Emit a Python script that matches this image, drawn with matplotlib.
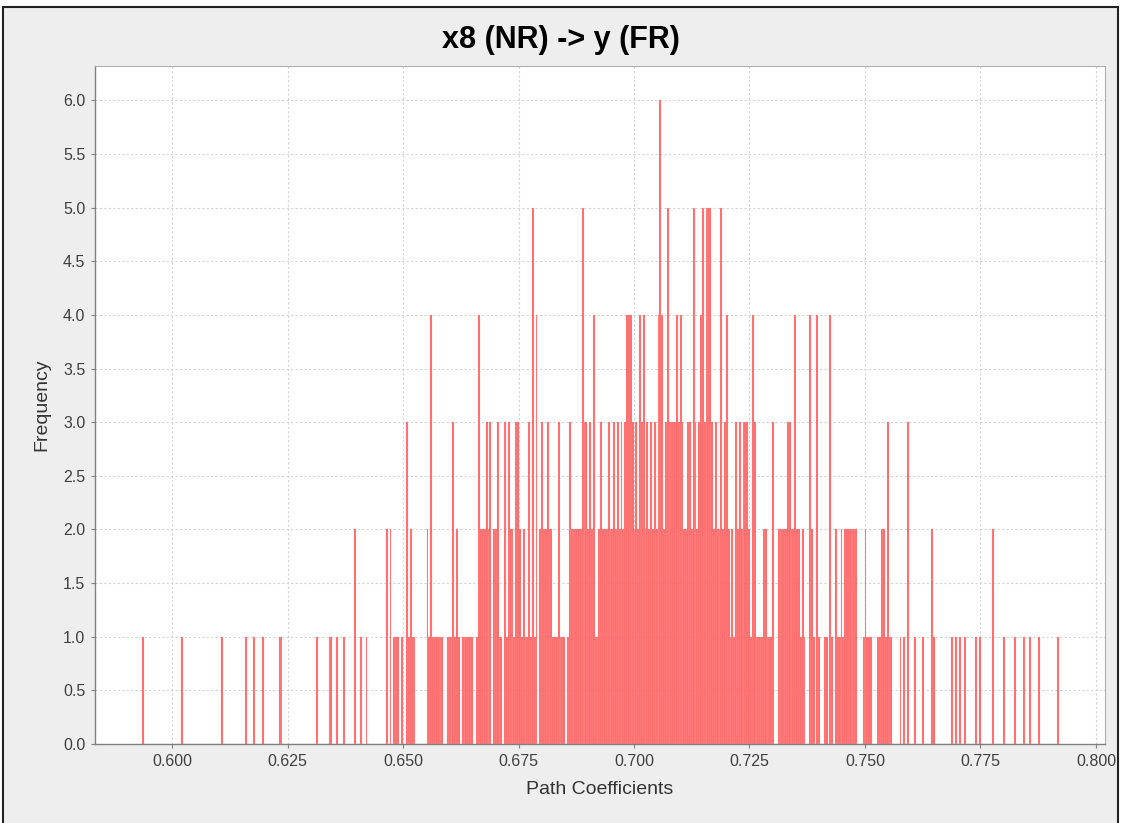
import matplotlib.pyplot as plt
import numpy as np
from matplotlib.ticker import MultipleLocator, FormatStrFormatter
from matplotlib.patches import Rectangle

# histogram of bootstrap path coefficients, 496 bins
first_bin = 0.5937
bin_width = 0.0004
freq = [
    1, 0, 0, 0, 0, 0, 0, 0, 0, 0, 0, 0, 0, 0, 0, 0, 0, 0, 0, 0,
    0, 1, 0, 0, 0, 0, 0, 0, 0, 0, 0, 0, 0, 0, 0, 0, 0, 0, 0, 0,
    0, 0, 0, 1, 0, 0, 0, 0, 0, 0, 0, 0, 0, 0, 0, 0, 1, 0, 0, 0,
    1, 0, 0, 0, 0, 1, 0, 0, 0, 0, 0, 0, 0, 0, 1, 1, 0, 0, 0, 0,
    0, 0, 0, 0, 0, 0, 0, 0, 0, 0, 0, 0, 0, 0, 1, 0, 0, 0, 0, 0,
    0, 1, 1, 0, 0, 1, 0, 0, 0, 1, 0, 0, 0, 0, 0, 2, 0, 0, 1, 0,
    0, 1, 0, 0, 0, 0, 0, 0, 0, 0, 0, 0, 2, 0, 2, 0, 1, 1, 1, 0,
    1, 0, 0, 3, 1, 2, 1, 1, 0, 0, 0, 0, 0, 0, 2, 1, 4, 1, 1, 1,
    1, 1, 1, 0, 0, 1, 1, 1, 3, 1, 2, 1, 0, 1, 1, 1, 1, 1, 1, 0,
    0, 1, 4, 2, 2, 2, 3, 2, 3, 0, 2, 2, 3, 1, 1, 0, 3, 1, 3, 2,
    2, 1, 3, 3, 2, 1, 2, 1, 1, 3, 1, 5, 1, 4, 0, 2, 3, 2, 2, 3,
    2, 2, 1, 1, 1, 3, 1, 1, 1, 0, 1, 3, 2, 2, 2, 2, 2, 2, 5, 3,
    3, 2, 3, 2, 4, 1, 1, 2, 3, 2, 2, 2, 3, 2, 2, 3, 2, 3, 2, 3,
    2, 3, 4, 4, 4, 3, 2, 3, 2, 4, 3, 4, 2, 3, 2, 3, 2, 3, 2, 4,
    6, 4, 2, 3, 5, 3, 3, 3, 3, 4, 3, 4, 3, 2, 2, 3, 3, 2, 5, 3,
    2, 3, 4, 5, 3, 5, 5, 5, 3, 2, 3, 2, 2, 5, 2, 3, 4, 2, 1, 2,
    1, 3, 2, 3, 2, 3, 3, 3, 2, 1, 4, 3, 1, 1, 1, 1, 2, 2, 1, 1,
    1, 3, 0, 0, 2, 2, 2, 2, 2, 3, 3, 2, 2, 4, 2, 2, 1, 2, 1, 0,
    0, 4, 2, 1, 0, 4, 1, 0, 0, 1, 1, 0, 4, 1, 0, 2, 1, 1, 2, 1,
    2, 2, 2, 2, 2, 2, 2, 0, 0, 0, 1, 2, 1, 1, 1, 0, 0, 0, 1, 1,
    2, 2, 1, 3, 1, 1, 0, 0, 0, 0, 1, 0, 1, 0, 3, 0, 0, 0, 1, 0,
    0, 0, 1, 0, 0, 0, 0, 2, 1, 0, 0, 0, 0, 0, 0, 0, 0, 0, 1, 0,
    1, 0, 1, 0, 0, 1, 0, 0, 0, 0, 0, 1, 0, 1, 0, 0, 0, 0, 0, 0,
    2, 0, 0, 0, 0, 0, 1, 0, 0, 0, 0, 0, 1, 0, 0, 0, 0, 1, 0, 0,
    1, 0, 0, 0, 0, 1, 0, 0, 0, 0, 0, 0, 0, 0, 0, 1,
]

title = 'x8 (NR) -> y (FR)'
x_label = 'Path Coefficients'
y_label = 'Frequency'

centers = first_bin + bin_width * np.arange(len(freq))

W, H = 1122, 823
fig = plt.figure(figsize=(W / 100, H / 100), dpi=100, facecolor='white')

# grey panel with dark frame (screenshot border)
fig.patches.append(Rectangle((3 / W, -0.01), 1115 / W, (H - 7) / H + 0.01,
                             transform=fig.transFigure, facecolor='#eeeeee',
                             edgecolor='#222222', linewidth=1.5, zorder=-5))

ax = fig.add_axes([95 / W, 79 / H, 1010 / W, 678 / H])
ax.set_facecolor('white')
ax.bar(centers, freq, width=bin_width, color='#ff5a5a', edgecolor='#ffb4b4',
       linewidth=0.15, alpha=0.9, zorder=2)

ax.set_xlim(0.58333, 0.80195)
ax.set_ylim(0, 6.32)
ax.xaxis.set_major_locator(MultipleLocator(0.025))
ax.xaxis.set_major_formatter(FormatStrFormatter('%.3f'))
ax.yaxis.set_major_locator(MultipleLocator(0.5))
ax.yaxis.set_major_formatter(FormatStrFormatter('%.1f'))

ax.grid(True, color='#d4d4d4', linestyle=(0, (2, 2)), linewidth=0.8, zorder=0)
ax.set_axisbelow(True)

for s in ['top', 'right']:
    ax.spines[s].set_color('#b0b0b0')
    ax.spines[s].set_linewidth(0.8)
for s in ['left', 'bottom']:
    ax.spines[s].set_color('#808080')
    ax.spines[s].set_linewidth(1.0)

ax.tick_params(direction='out', length=3, width=0.8, color='#808080',
               labelcolor='#404040', labelsize=11.5, pad=4)
for lab in ax.get_xticklabels() + ax.get_yticklabels():
    lab.set_fontfamily('Liberation Sans')

ax.set_xlabel(x_label, fontsize=14, color='#333333',
              fontfamily='Liberation Sans', labelpad=9)
ax.set_ylabel(y_label, fontsize=14, color='#333333',
              fontfamily='Liberation Sans', labelpad=9)

fig.text(0.5, (H - 40) / H, title, ha='center', va='center', fontsize=22,
         fontweight='bold', fontfamily='Liberation Sans', color='black')

fig.savefig('out.png', dpi=100, facecolor=fig.get_facecolor())
